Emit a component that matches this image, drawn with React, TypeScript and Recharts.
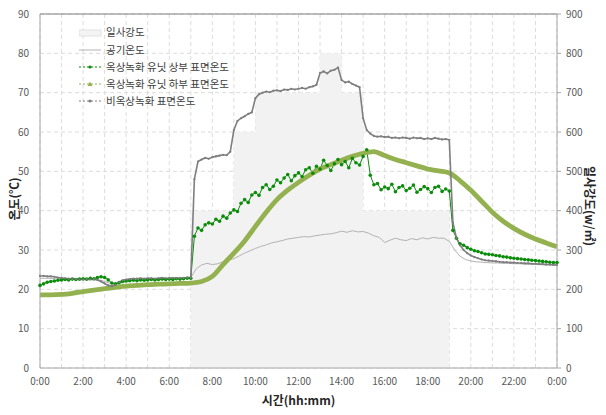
import React from "react";
import {
  ComposedChart,
  Area,
  Line,
  XAxis,
  YAxis,
  CartesianGrid,
  ReferenceLine,
} from "recharts";

// 일사강도 (W/㎡), hourly, 0:00 … 24:00
const SOLAR = [0, 0, 0, 0, 0, 0, 0, 400, 400, 600, 700, 700, 700, 800, 700, 400, 400, 400, 400, 0, 0, 0, 0, 0, 0];

// 공기온도 (℃), every 15 min
const AIR = [
  22.8, 22.8, 22.8, 22.7, 22.7, 22.7, 22.6, 22.6, 22.6, 22.6, 22.5, 22.4,
  22.0, 21.5, 21.2, 21.6, 22.0, 22.3, 22.4, 22.5, 22.5, 22.5, 22.6, 22.6,
  22.6, 22.7, 22.7, 22.8, 23.0, 25.2, 26.2, 26.6, 26.3, 26.5, 27.0, 27.4,
  27.8, 28.5, 29.2, 29.8, 30.4, 30.9, 31.3, 31.8, 32.1, 32.4, 32.8, 33.0,
  33.2, 33.4, 33.3, 33.6, 33.8, 34.0, 34.1, 34.4, 34.8, 34.5, 34.9, 34.6,
  34.7, 34.3, 33.6, 33.2, 31.9, 32.5, 33.0, 32.6, 32.4, 32.9, 32.6, 33.1,
  32.8, 33.2, 33.0, 33.0, 32.2, 30.0, 28.4, 27.6, 27.2, 27.0, 26.9, 26.8,
  26.7, 26.7, 26.6, 26.6, 26.5, 26.5, 26.4, 26.4, 26.3, 26.3, 26.2, 26.2,
  26.2,
];

// 옥상녹화 유닛 상부 표면온도 (℃), every 10 min
const UPPER = [
  21.0, 21.4, 21.8, 22.0, 22.1, 22.3,
  22.4, 22.5, 22.4, 22.6, 22.5, 22.6,
  22.7, 22.6, 22.8, 22.7, 23.0, 23.2,
  23.0, 22.4, 21.6, 21.4, 21.7, 22.0,
  22.1, 22.2, 22.3, 22.2, 22.4, 22.3,
  22.4, 22.5, 22.4, 22.5, 22.6, 22.5,
  22.6, 22.5, 22.7, 22.6, 22.7, 22.8,
  22.8, 33.5, 35.6, 35.0, 36.4, 36.9,
  36.6, 37.8, 37.3, 38.6, 38.1, 39.4,
  40.2, 39.8, 41.9, 42.8, 42.1, 44.0,
  44.6, 43.9, 45.9, 46.6, 45.4, 46.2,
  47.8, 47.1, 48.3, 49.2, 47.6, 48.9,
  49.6, 48.7, 50.4, 50.9, 49.5, 51.3,
  50.6, 52.8, 51.5, 50.2, 51.9, 53.0,
  51.7, 52.5, 50.9, 53.3, 52.2, 51.6,
  53.8, 55.5, 49.0, 46.6, 46.9, 45.3,
  46.0, 45.6, 46.7, 44.8, 45.9, 46.3,
  45.1, 45.7, 46.5, 44.7, 45.4, 46.1,
  45.6, 44.6, 45.9, 46.2, 44.9, 45.5,
  45.0, 35.0, 33.0, 31.6, 31.2, 30.6,
  30.2, 29.8, 29.6, 29.3, 29.0, 28.9,
  28.8, 28.6, 28.5, 28.3, 28.2, 28.0,
  27.9, 27.8, 27.7, 27.6, 27.5, 27.4,
  27.3, 27.2, 27.1, 27.0, 26.9, 26.8,
  26.8,
];

// 옥상녹화 유닛 하부 표면온도 (℃), every 30 min
const LOWER = [
  18.6, 18.6, 18.7, 19.0, 19.4, 19.8, 20.2, 20.5, 20.8, 21.0, 21.2, 21.3,
  21.4, 21.5, 21.6, 22.0, 23.3, 26.3, 29.2, 32.3, 36.0, 39.6, 42.8, 45.2,
  47.2, 49.0, 50.6, 51.7, 52.8, 53.8, 54.6, 55.0, 54.0, 53.0, 52.2, 51.4,
  50.6, 50.1, 49.6, 47.6, 45.2, 42.4, 39.6, 37.3, 35.5, 34.0, 32.8, 31.8,
  30.8,
];

// 비옥상녹화 표면온도 (℃), every 10 min
const BARE = [
  23.4, 23.4, 23.3, 23.3, 23.2, 23.0,
  22.9, 22.8, 22.7, 22.6, 22.6, 22.5,
  22.5, 22.6, 22.5, 22.6, 22.4, 22.0,
  21.5, 21.0, 20.8, 21.2, 21.8, 22.3,
  22.5, 22.6, 22.7, 22.7, 22.8, 22.7,
  22.8, 22.8, 22.7, 22.8, 22.9, 22.8,
  22.8, 22.9, 22.8, 22.9, 22.9, 23.0,
  23.0, 48.0, 52.5, 53.0, 53.4, 53.2,
  53.6, 53.8, 54.0, 54.2, 54.1, 55.0,
  60.5, 62.8, 63.5, 64.0, 64.6, 65.0,
  68.6, 69.6, 70.0, 70.3, 70.1, 70.5,
  70.6, 70.4, 70.8, 70.7, 71.0, 70.8,
  71.0, 71.2, 71.0, 71.4, 71.6, 72.0,
  75.0, 75.4, 74.9, 75.6, 75.8, 76.4,
  73.2, 72.6, 72.8, 72.2, 71.8, 71.4,
  63.5, 60.5, 59.6, 59.0, 58.8, 58.9,
  58.7, 58.8, 58.5, 58.6, 58.4, 58.6,
  58.5, 58.3, 58.6, 58.4, 58.5, 58.2,
  58.4, 58.2, 58.5, 58.3, 58.1, 58.2,
  58.0, 37.0, 33.0, 31.2, 30.0, 29.2,
  28.6, 28.2, 27.9, 27.6, 27.4, 27.3,
  27.2, 27.1, 27.0, 26.9, 26.9, 26.8,
  26.8, 26.7, 26.7, 26.6, 26.6, 26.5,
  26.5, 26.4, 26.4, 26.3, 26.3, 26.2,
  26.2,
];

const HOURS = [0, 1, 2, 3, 4, 5, 6, 7, 8, 9, 10, 11, 12, 13, 14, 15, 16, 17, 18, 19, 20, 21, 22, 23, 24];
const TEMP_TICKS = [0, 10, 20, 30, 40, 50, 60, 70, 80, 90];
const SOLAR_TICKS = [0, 100, 200, 300, 400, 500, 600, 700, 800, 900];

const toSeries = (vals: number[], perHour: number) =>
  vals.map((v, i) => ({ t: i / perHour, v }));

const solarData = toSeries(SOLAR, 1);
const airData = toSeries(AIR, 4);
const upperData = toSeries(UPPER, 6);
const lowerData = toSeries(LOWER, 2);
const bareData = toSeries(BARE, 6);

const FONT = '"Noto Sans CJK KR", "Noto Sans", sans-serif';
const GREEN = "#0b8c0b";
const OLIVE = "#93b24f";
const GRAY = "#7f7f7f";
const AIR_GRAY = "#b3b3b3";

const LEGEND = [
  { name: "일사강도", kind: "area" },
  { name: "공기온도", kind: "air" },
  { name: "옥상녹화 유닛 상부 표면온도", kind: "upper" },
  { name: "옥상녹화 유닛 하부 표면온도", kind: "lower" },
  { name: "비옥상녹화 표면온도", kind: "bare" },
];

function Swatch({ kind }: { kind: string }) {
  if (kind === "area")
    return <rect x={0} y={3} width={22} height={6} fill="#f4f4f4" stroke="#e2e2e2" />;
  if (kind === "air") return <line x1={0} y1={6} x2={22} y2={6} stroke={AIR_GRAY} strokeWidth={1} />;
  const c = kind === "upper" ? GREEN : kind === "lower" ? OLIVE : GRAY;
  return (
    <g>
      <line x1={0} y1={6} x2={22} y2={6} stroke={c} strokeWidth={1} strokeDasharray="2 2" />
      {kind === "lower" ? (
        <path d="M11,3.5 L13.5,8 L8.5,8 Z" fill={c} />
      ) : (
        <circle cx={11} cy={6} r={1.6} fill={c} />
      )}
    </g>
  );
}

function LegendBox() {
  return (
    <div
      style={{
        position: "absolute",
        left: 79,
        top: 24,
        fontFamily: FONT,
        fontSize: 10.5,
        color: "#404040",
        lineHeight: 1,
      }}
    >
      {LEGEND.map((l) => (
        <div key={l.name} style={{ display: "flex", alignItems: "center", height: 17.2 }}>
          <svg width={24} height={12} style={{ marginRight: 3 }}>
            <Swatch kind={l.kind} />
          </svg>
          <span>{l.name}</span>
        </div>
      ))}
    </div>
  );
}

const tick = { fill: "#595959", fontSize: 10, fontFamily: FONT };

export default function App() {
  return (
    <div style={{ position: "absolute", left: 0, top: 0, width: 606, height: 415, background: "#fff" }}>
      <ComposedChart width={606} height={415} margin={{ top: 14, right: 0, bottom: 17, left: 0 }}>
        <CartesianGrid yAxisId="left" stroke="#dcdcdc" strokeDasharray="4 3" />
        <XAxis
          type="number"
          dataKey="t"
          domain={[0, 24]}
          ticks={HOURS}
          interval={0}
          tickFormatter={(h: number) => (h % 2 === 0 ? `${h % 24}:00` : "")}
          tick={tick}
          tickLine={false}
          tickMargin={4}
          axisLine={{ stroke: "#a6a6a6" }}
          height={30}
          label={{
            content: ({ viewBox }: any) => (
              <text
                x={viewBox.x + viewBox.width / 2}
                y={viewBox.y + 37}
                textAnchor="middle"
                fontFamily={FONT}
                fontSize={12}
                fontWeight={700}
                fill="#262626"
              >
                시간(hh:mm)
              </text>
            ),
          }}
        />
        <YAxis
          yAxisId="left"
          domain={[0, 90]}
          ticks={TEMP_TICKS}
          interval={0}
          width={40}
          tick={tick}
          tickLine={false}
          tickMargin={5}
          axisLine={{ stroke: "#a6a6a6" }}
          label={{
            content: ({ viewBox }: any) => {
              const cx = viewBox.x + 13;
              const cy = viewBox.y + viewBox.height / 2 + 8;
              return (
                <text
                  x={cx}
                  y={cy}
                  textAnchor="middle"
                  transform={`rotate(-90 ${cx} ${cy})`}
                  fontFamily={FONT}
                  fontSize={12}
                  fontWeight={700}
                  fill="#262626"
                  dominantBaseline="central"
                >
                  온도(℃)
                </text>
              );
            },
          }}
        />
        <YAxis
          yAxisId="right"
          orientation="right"
          domain={[0, 900]}
          ticks={SOLAR_TICKS}
          interval={0}
          width={49}
          tick={{ ...tick, textAnchor: "start" }}
          tickSize={4}
          tickLine={{ stroke: "#a6a6a6" }}
          tickMargin={5}
          axisLine={{ stroke: "#a6a6a6" }}
          label={{
            content: ({ viewBox }: any) => {
              const cx = viewBox.x + 33;
              const cy = viewBox.y + viewBox.height / 2 + 15;
              return (
                <text
                  x={cx}
                  y={cy}
                  textAnchor="middle"
                  transform={`rotate(90 ${cx} ${cy})`}
                  fontFamily={FONT}
                  fontSize={12}
                  fontWeight={700}
                  fill="#262626"
                  dominantBaseline="central"
                >
                  일사강도(w/㎡)
                </text>
              );
            },
          }}
        />
        <Area
          yAxisId="right"
          data={solarData}
          dataKey="v"
          type="stepAfter"
          stroke="none"
          fill="#f2f2f2"
          fillOpacity={1}
          isAnimationActive={false}
        />
        <ReferenceLine yAxisId="left" y={90} stroke="#7f7f7f" strokeWidth={1.2} />
        <Line
          yAxisId="left"
          data={airData}
          dataKey="v"
          type="linear"
          stroke={AIR_GRAY}
          strokeWidth={1}
          dot={false}
          isAnimationActive={false}
        />
        <Line
          yAxisId="left"
          data={upperData}
          dataKey="v"
          type="linear"
          stroke={GREEN}
          strokeWidth={1}
          dot={{ r: 1.8, fill: GREEN, stroke: "none" }}
          isAnimationActive={false}
        />
        <Line
          yAxisId="left"
          data={lowerData}
          dataKey="v"
          type="monotone"
          stroke={OLIVE}
          strokeWidth={4.8}
          dot={false}
          isAnimationActive={false}
        />
        <Line
          yAxisId="left"
          data={bareData}
          dataKey="v"
          type="linear"
          stroke={GRAY}
          strokeWidth={1.6}
          dot={{ r: 1.1, fill: GRAY, stroke: "none" }}
          isAnimationActive={false}
        />
      </ComposedChart>
      <LegendBox />
    </div>
  );
}
